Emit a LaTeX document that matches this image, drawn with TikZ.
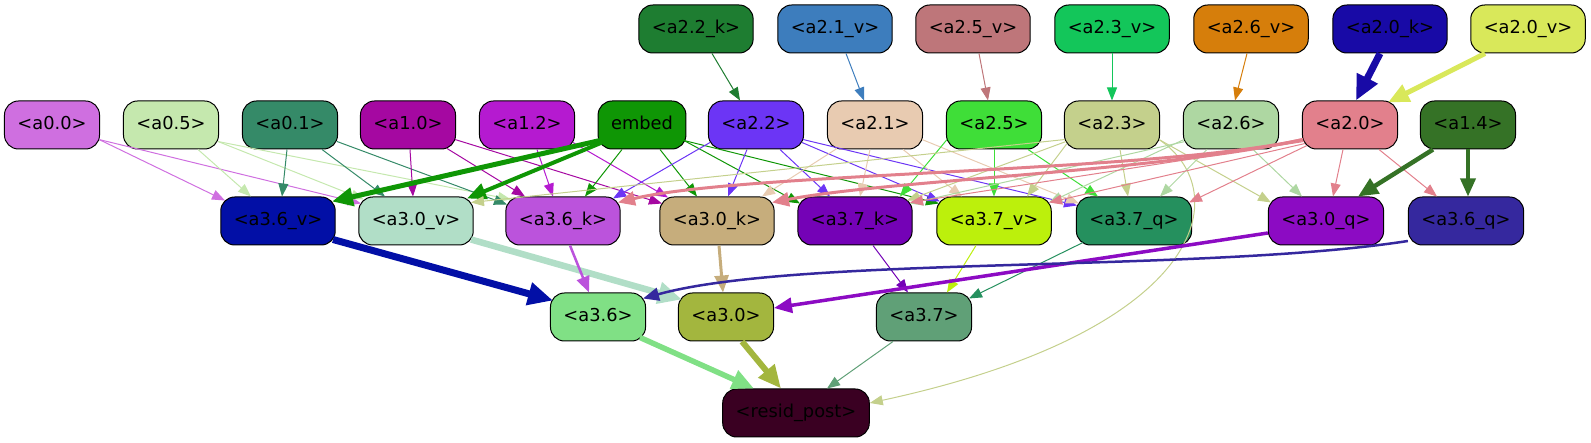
\documentclass[tikz,border=0pt]{standalone}
\usepackage{fontspec}
\setmainfont{DejaVu Sans}
\usetikzlibrary{arrows.meta}
\definecolor{c00}{HTML}{CF6FE0}
\definecolor{c05}{HTML}{C5E8AE}
\definecolor{c01}{HTML}{358A68}
\definecolor{c10}{HTML}{A508A1}
\definecolor{c12}{HTML}{B51AD0}
\definecolor{cemb}{HTML}{0F9605}
\definecolor{c22}{HTML}{6C35F5}
\definecolor{c21}{HTML}{E8CBB1}
\definecolor{c25}{HTML}{3FDE38}
\definecolor{c23}{HTML}{C4D08C}
\definecolor{c26}{HTML}{AED7A2}
\definecolor{c20}{HTML}{E2808C}
\definecolor{c14}{HTML}{357226}
\definecolor{c22k}{HTML}{1E7D31}
\definecolor{c21v}{HTML}{3D7DBD}
\definecolor{c25v}{HTML}{BE767A}
\definecolor{c23v}{HTML}{13C65A}
\definecolor{c26v}{HTML}{D67E0B}
\definecolor{c20k}{HTML}{180AA6}
\definecolor{c20v}{HTML}{D9E85A}
\definecolor{c36v}{HTML}{020FA6}
\definecolor{c30v}{HTML}{B1DEC7}
\definecolor{c36k}{HTML}{BB53DC}
\definecolor{c30k}{HTML}{C6AD7C}
\definecolor{c37k}{HTML}{7402B6}
\definecolor{c37v}{HTML}{BCF00C}
\definecolor{c37q}{HTML}{25905E}
\definecolor{c30q}{HTML}{8C0BC3}
\definecolor{c36q}{HTML}{35289E}
\definecolor{c36}{HTML}{80E085}
\definecolor{c30}{HTML}{A3B63E}
\definecolor{c37}{HTML}{60A077}
\definecolor{crp}{HTML}{3A0022}
\begin{document}
\begin{tikzpicture}[x=1pt,y=-1pt,
  box/.style={draw=black, line width=1pt, rounded corners=14pt, minimum height=48pt,
    inner xsep=13pt, inner ysep=0pt, text height=13pt, text depth=4pt,
    font=\fontsize{17.8}{21}\selectfont},
  ed/.style 2 args={draw=#1, line width=#2pt, -{Triangle[length=11pt 2, width=8pt 2]}}]
\useasboundingbox (0,0) rectangle (1591,443);
% row 0
\node[box, fill=c22k] (a22k) at (696,29) {<a2.2\_k>};
\node[box, fill=c21v] (a21v) at (835,29) {<a2.1\_v>};
\node[box, fill=c25v] (a25v) at (973,29) {<a2.5\_v>};
\node[box, fill=c23v] (a23v) at (1112,29) {<a2.3\_v>};
\node[box, fill=c26v] (a26v) at (1251,29) {<a2.6\_v>};
\node[box, fill=c20k] (a20k) at (1390,29) {<a2.0\_k>};
\node[box, fill=c20v] (a20v) at (1528,29) {<a2.0\_v>};
% row 1
\node[box, fill=c00] (a00) at (52,125) {<a0.0>};
\node[box, fill=c05] (a05) at (171,125) {<a0.5>};
\node[box, fill=c01] (a01) at (290,125) {<a0.1>};
\node[box, fill=c10] (a10) at (408,125) {<a1.0>};
\node[box, fill=c12] (a12) at (527,125) {<a1.2>};
\node[box, fill=cemb] (emb) at (642,125) {embed};
\node[box, fill=c22] (a22) at (756,125) {<a2.2>};
\node[box, fill=c21] (a21) at (875,125) {<a2.1>};
\node[box, fill=c25] (a25) at (994,125) {<a2.5>};
\node[box, fill=c23] (a23) at (1112,125) {<a2.3>};
\node[box, fill=c26] (a26) at (1231,125) {<a2.6>};
\node[box, fill=c20] (a20) at (1350,125) {<a2.0>};
\node[box, fill=c14] (a14) at (1468,125) {<a1.4>};
% row 2
\node[box, fill=c36v] (a36v) at (278,221) {<a3.6\_v>};
\node[box, fill=c30v] (a30v) at (416,221) {<a3.0\_v>};
\node[box, fill=c36k] (a36k) at (563,221) {<a3.6\_k>};
\node[box, fill=c30k] (a30k) at (717,221) {<a3.0\_k>};
\node[box, fill=c37k] (a37k) at (855,221) {<a3.7\_k>};
\node[box, fill=c37v] (a37v) at (994,221) {<a3.7\_v>};
\node[box, fill=c37q] (a37q) at (1134,221) {<a3.7\_q>};
\node[box, fill=c30q] (a30q) at (1326,221) {<a3.0\_q>};
\node[box, fill=c36q] (a36q) at (1466,221) {<a3.6\_q>};
% row 3
\node[box, fill=c36] (a36) at (598,317) {<a3.6>};
\node[box, fill=c30] (a30) at (726,317) {<a3.0>};
\node[box, fill=c37] (a37) at (924,317) {<a3.7>};
% row 4
\node[box, fill=crp] (rp) at (796,413) {<resid\_post>};

% row 0 -> row 1
\draw[ed={c22k}{1}] ([xshift=16pt]a22k.south) -- ([xshift=-16pt]a22.north);
\draw[ed={c21v}{1}] ([xshift=11pt]a21v.south) -- ([xshift=-11pt]a21.north);
\draw[ed={c25v}{1}] ([xshift=6pt]a25v.south) -- ([xshift=-6pt]a25.north);
\draw[ed={c23v}{1}] (a23v.south) -- (a23.north);
\draw[ed={c26v}{1}] ([xshift=-4pt]a26v.south) -- ([xshift=4pt]a26.north);
\draw[ed={c20k}{7}] ([xshift=-10pt]a20k.south) -- ([xshift=6pt]a20.north);
\draw[ed={c20v}{5}] ([xshift=-43pt]a20v.south) -- ([xshift=38pt,yshift=-2pt]a20.north);

% row 1 -> row 2
\draw[ed={c00}{1}] ([xshift=47pt,yshift=10pt]a00.south) -- ([xshift=-53pt,yshift=-4pt]a36v.north);
\draw[ed={c00}{1}] ([xshift=47pt,yshift=10pt]a00.south) -- ([xshift=-55pt,yshift=-7pt]a30v.north);
\draw[ed={c05}{1}] ([xshift=27pt]a05.south) -- ([xshift=-27pt]a36v.north);
\draw[ed={c05}{1}] ([xshift=47pt,yshift=8pt]a05.south) -- ([xshift=-52pt,yshift=-3pt]a30v.north);
\draw[ed={c05}{1}] ([xshift=47pt,yshift=8pt]a05.south) -- ([xshift=-52pt,yshift=-3pt]a36k.north);
\draw[ed={c01}{1}] ([xshift=-3pt]a01.south) -- ([xshift=4pt]a36v.north);
\draw[ed={c01}{1}] ([xshift=32pt]a01.south) -- ([xshift=-31pt]a30v.north);
\draw[ed={c01}{1}] ([xshift=47pt,yshift=8pt]a01.south) -- ([xshift=-56pt,yshift=-8pt]a36k.north);
\draw[ed={c10}{1}] ([xshift=2pt]a10.south) -- ([xshift=-3pt]a30v.north);
\draw[ed={c10}{1}] ([xshift=39pt,yshift=1pt]a10.south) -- ([xshift=-38pt]a36k.north);
\draw[ed={c10}{1}] ([xshift=47pt,yshift=10pt]a10.south) -- ([xshift=-55pt,yshift=-7pt]a30k.north);
\draw[ed={c12}{1}] ([xshift=10pt]a12.south) -- ([xshift=-10pt]a36k.north);
\draw[ed={c12}{1}] ([xshift=46pt,yshift=7pt]a12.south) -- ([xshift=-49pt,yshift=-1pt]a30k.north);
\draw[ed={cemb}{5}] ([xshift=-42pt,yshift=9pt]emb.south) -- ([xshift=54pt,yshift=-5pt]a36v.north);
\draw[ed={cemb}{4}] ([xshift=-40pt,yshift=7pt]emb.south) -- ([xshift=51pt,yshift=-2pt]a30v.north);
\draw[ed={cemb}{1}] ([xshift=-20pt]emb.south) -- ([xshift=22pt]a36k.north);
\draw[ed={cemb}{1}] ([xshift=18pt]emb.south) -- ([xshift=-20pt]a30k.north);
\draw[ed={cemb}{1}] ([xshift=42pt,yshift=9pt]emb.south) -- ([xshift=-55pt,yshift=-7pt]a37k.north);
\draw[ed={cemb}{1}] ([xshift=42pt,yshift=9pt]emb.south) -- ([xshift=-55pt,yshift=-7pt]a37v.north);
\draw[ed={c22}{1}] ([xshift=-46pt,yshift=7pt]a22.south) -- ([xshift=50pt,yshift=-2pt]a36k.north);
\draw[ed={c22}{1}] ([xshift=-9pt]a22.south) -- ([xshift=11pt]a30k.north);
\draw[ed={c22}{1}] ([xshift=24pt]a22.south) -- ([xshift=-25pt]a37k.north);
\draw[ed={c22}{1}] ([xshift=46pt,yshift=7pt]a22.south) -- ([xshift=-54pt,yshift=-5pt]a37v.north);
\draw[ed={c22}{1}] ([xshift=47pt,yshift=10pt]a22.south) -- ([xshift=-57pt,yshift=-9pt]a37q.north);
\draw[ed={c21}{1}] ([xshift=-38pt,yshift=1pt]a21.south) -- ([xshift=45pt]a30k.north);
\draw[ed={c21}{1}] ([xshift=-5pt]a21.south) -- ([xshift=5pt]a37k.north);
\draw[ed={c21}{1}] ([xshift=28pt]a21.south) -- ([xshift=-32pt]a37v.north);
\draw[ed={c21}{1}] ([xshift=47pt,yshift=10pt]a21.south) -- ([xshift=-55pt,yshift=-7pt]a37q.north);
\draw[ed={c25}{1}] ([xshift=-47pt,yshift=10pt]a25.south) -- ([xshift=45pt]a37k.north);
\draw[ed={c25}{1}] (a25.south) -- (a37v.north);
\draw[ed={c25}{1}] ([xshift=34pt]a25.south) -- ([xshift=-36pt]a37q.north);
\draw[ed={c23}{1}] ([xshift=-47pt,yshift=10pt]a23.south) -- ([xshift=55pt,yshift=-6pt]a30v.north);
\draw[ed={c23}{1}] ([xshift=-45pt,yshift=6pt]a23.south) -- ([xshift=33pt]a37v.north);
\draw[ed={c23}{1}] ([xshift=-46pt,yshift=8pt]a23.south) -- ([xshift=52pt,yshift=-4pt]a37k.north);
\draw[ed={c23}{1}] ([xshift=8pt]a23.south) -- ([xshift=-6pt]a37q.north);
\draw[ed={c23}{1}] ([xshift=47pt,yshift=10pt]a23.south) -- ([xshift=-55pt,yshift=-6pt]a30q.north);
\draw[ed={c23}{1}] ([xshift=47pt,yshift=10pt]a23.south) .. controls +(77,52) and +(338,-73) .. ([yshift=10pt]rp.east);
\draw[ed={c26}{1}] ([xshift=-24pt]a26.south) -- ([xshift=26pt]a37q.north);
\draw[ed={c26}{1}] ([xshift=22pt]a26.south) -- ([xshift=-24pt]a30q.north);
\draw[ed={c26}{1}] ([xshift=-47pt,yshift=10pt]a26.south) -- ([xshift=55pt,yshift=-6pt]a37v.north);
\draw[ed={c26}{1}] ([xshift=-46pt,yshift=8pt]a26.south) -- ([xshift=55pt,yshift=-7pt]a37k.north);
\draw[ed={c20}{3}] ([xshift=-47pt,yshift=10pt]a20.south) .. controls +(-150,33) and +(123,-30) .. ([xshift=55pt,yshift=-6pt]a36k.north);
\draw[ed={c20}{3}] ([xshift=-47pt,yshift=10pt]a20.south) .. controls +(-150,33) and +(120,-23) .. ([xshift=55pt,yshift=-6pt]a30k.north);
\draw[ed={c20}{1}] ([xshift=-46pt,yshift=8pt]a20.south) -- ([xshift=55pt,yshift=-6pt]a37k.north);
\draw[ed={c20}{1}] ([xshift=-45pt,yshift=6pt]a20.south) -- ([xshift=55pt,yshift=-6pt]a37v.north);
\draw[ed={c20}{1}] ([xshift=-43pt,yshift=4pt]a20.south) -- ([xshift=55pt,yshift=-6pt]a37q.north);
\draw[ed={c20}{1}] ([xshift=-7pt]a20.south) -- ([xshift=7pt]a30q.north);
\draw[ed={c20}{1}] ([xshift=29pt]a20.south) -- ([xshift=-29pt]a36q.north);
\draw[ed={c14}{4.5}] ([xshift=-35pt]a14.south) -- ([xshift=32pt]a30q.north);
\draw[ed={c14}{3.5}] (a14.south) -- ([xshift=2pt]a36q.north);

% row 2 -> row 3
\draw[ed={c36v}{7}] ([xshift=55pt,yshift=6pt]a36v.south) -- ([xshift=-45pt,yshift=-8pt]a36.north);
\draw[ed={c30v}{6.5}] ([xshift=55pt,yshift=6pt]a30v.south) -- ([xshift=-44pt,yshift=-7pt]a30.north);
\draw[ed={c36k}{2.5}] ([xshift=7pt]a36k.south) -- ([xshift=-9pt]a36.north);
\draw[ed={c30k}{3}] ([xshift=2pt]a30k.south) -- ([xshift=-3pt]a30.north);
\draw[ed={c37k}{1}] ([xshift=18pt]a37k.south) -- ([xshift=-16pt]a37.north);
\draw[ed={c37v}{1}] ([xshift=-18pt]a37v.south) -- ([xshift=23pt]a37.north);
\draw[ed={c37q}{1}] ([xshift=-51pt,yshift=3pt]a37q.south) -- ([xshift=45pt,yshift=-6pt]a37.north);
\draw[ed={c30q}{3.5}] ([yshift=-12pt]a30q.west) -- ([yshift=9pt]a30.east);
\draw[ed={c36q}{2.5}] ([yshift=-20pt]a36q.west) .. controls +(-207,32) and +(155,-43) .. ([xshift=-3pt,yshift=-6pt]a36.north east);

% row 3 -> row 4
\draw[ed={c36}{5.5}] ([xshift=-6pt,yshift=4pt]a36.south east) -- ([xshift=-42pt]rp.north);
\draw[ed={c30}{6}] ([xshift=16pt]a30.south) -- ([xshift=-15pt]rp.north);
\draw[ed={c37}{1}] ([xshift=-31pt]a37.south) -- ([xshift=31pt]rp.north);
\end{tikzpicture}
\end{document}
